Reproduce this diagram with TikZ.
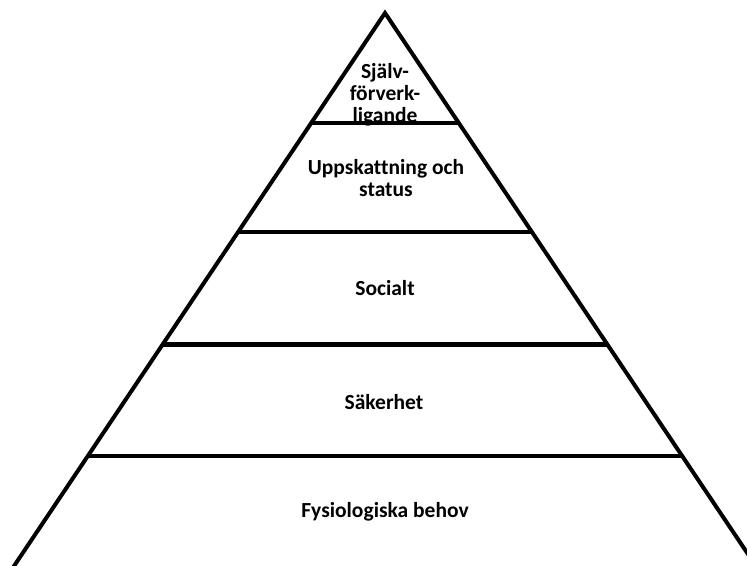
\documentclass[tikz,border=0pt]{standalone}
\usepackage{fontspec}
\setmainfont{Carlito}[Ligatures={NoCommon}]
\usetikzlibrary{calc}
\begin{document}
\begin{tikzpicture}[x=1pt,y=-1pt,
  edge/.style={line width=4pt},
  level/.style={line width=4pt},
  lbl/.style={align=center,inner sep=0pt,font=\fontsize{21.5}{22}\selectfont\bfseries}]
\useasboundingbox (0,0) rectangle (747,565);
\clip (0,0) rectangle (747,565);
\coordinate (apex) at (385,13);
\coordinate (bl) at (14.7,565);
\coordinate (br) at (755.3,565);
\draw[edge,line join=miter] ($(apex)!1.05!(bl)$) -- (apex) -- ($(apex)!1.05!(br)$);
\foreach \t/\n in {0.1996/a,0.3975/b,0.6007/c,0.8022/d}{
  \coordinate (l\n) at ($(apex)!\t!(bl)$);
  \coordinate (r\n) at ($(apex)!\t!(br)$);
}
\draw[level] (la) -- (ra);
\draw[level] (lb) -- (rb);
\draw[level,line width=5pt] (lc) -- (rc);
\draw[level] (ld) -- (rd);
\node[lbl] (t1) at (385,95) {Själv-\\förverk-\\ligande};
\node[lbl] (t2) at (386,178) {Uppskattning och\\status};
\node[lbl] (t3) at (385,288) {Socialt};
\node[lbl] (t4) at (384,402) {Säkerhet};
\node[lbl] (t5) at (385,512) {Fysiologiska behov};
\end{tikzpicture}
\end{document}
